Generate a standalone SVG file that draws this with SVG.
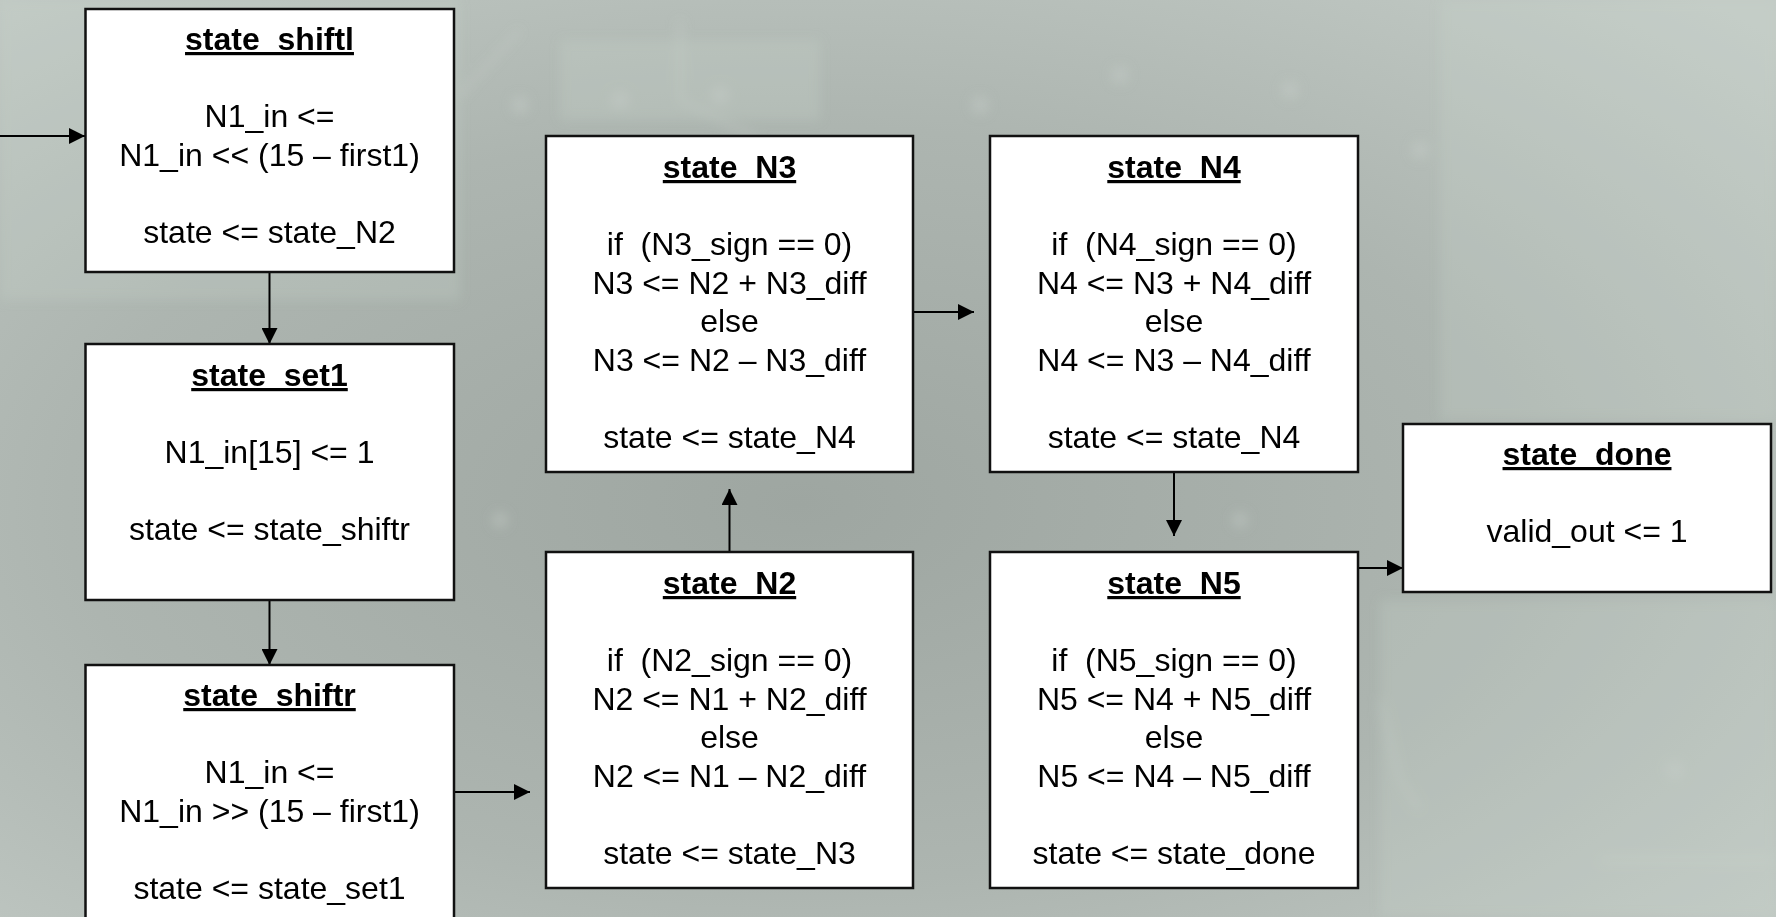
<svg xmlns="http://www.w3.org/2000/svg" width="1776" height="917" viewBox="0 0 1776 917">
  <defs>
    <radialGradient id="bg" cx="0.45" cy="0.55" r="0.75">
      <stop offset="0" stop-color="#9ea6a1"/>
      <stop offset="0.55" stop-color="#adb5b0"/>
      <stop offset="1" stop-color="#c3cbc6"/>
    </radialGradient>
    <filter id="soft" x="-10%" y="-10%" width="120%" height="120%">
      <feGaussianBlur stdDeviation="6"/>
    </filter>
    <marker id="arr" markerUnits="userSpaceOnUse" markerWidth="18" markerHeight="16" refX="16" refY="8" orient="auto">
      <path d="M0,0 L16,8 L0,16 Z" fill="#000"/>
    </marker>
    <style>
      .box { fill: #ffffff; stroke: #111111; stroke-width: 2.5; }
      .t { font-family: "Liberation Sans", Arial, sans-serif; font-size: 32px; fill: #000; text-anchor: middle; white-space: pre; }
      .h { font-weight: bold; text-decoration: underline; }
      .c { stroke: #000; stroke-width: 2; fill: none; marker-end: url(#arr); }
      .pcb { fill: none; stroke: #d3d9d5; stroke-width: 4; opacity: 0.3; }
      .via { fill: #c9cfcb; opacity: 0.4; }
      .patch { fill: #c6d2ca; opacity: 0.25; }
    </style>
  </defs>

  <g id="background">
    <rect x="0" y="0" width="1776" height="917" fill="url(#bg)"/>
    <g filter="url(#soft)">
      <rect class="patch" x="0" y="0" width="460" height="300"/>
      <rect class="patch" x="1380" y="600" width="396" height="317"/>
      <rect class="patch" x="1440" y="0" width="336" height="420"/>
      <rect class="patch" x="560" y="40" width="260" height="80"/>
      <circle class="via" cx="520" cy="105" r="9"/>
      <circle class="via" cx="620" cy="100" r="9"/>
      <circle class="via" cx="720" cy="95" r="9"/>
      <circle class="via" cx="980" cy="105" r="9"/>
      <circle class="via" cx="1120" cy="75" r="9"/>
      <circle class="via" cx="1290" cy="90" r="9"/>
      <circle class="via" cx="1420" cy="150" r="9"/>
      <circle class="via" cx="1675" cy="770" r="9"/>
      <circle class="via" cx="500" cy="520" r="8"/>
      <circle class="via" cx="1240" cy="520" r="8"/>
      <path class="pcb" d="M460,95 L520,30"/>
      <path class="pcb" d="M680,20 L680,100 L760,140"/>
      <path class="pcb" d="M1380,700 L1400,780 L1420,810"/>
      <path class="pcb" d="M1600,860 L1776,860"/>
    </g>
  </g>

  <g id="connectors">
    <line class="c" x1="0" y1="136" x2="85" y2="136"/>
    <line class="c" x1="269.5" y1="273" x2="269.5" y2="344"/>
    <line class="c" x1="269.5" y1="601" x2="269.5" y2="665"/>
    <line class="c" x1="455" y1="792" x2="530" y2="792"/>
    <line class="c" x1="729.5" y1="551" x2="729.5" y2="489"/>
    <line class="c" x1="914" y1="312" x2="974" y2="312"/>
    <line class="c" x1="1174" y1="473" x2="1174" y2="536"/>
    <line class="c" x1="1359" y1="568" x2="1403" y2="568"/>
  </g>

  <g id="state_shiftl">
    <rect class="box" x="85.5" y="9" width="368.5" height="263"/>
    <text class="t h" x="269.5" y="50">state_shiftl</text>
    <text class="t" x="269.5" y="127">N1_in &lt;=</text>
    <text class="t" x="269.5" y="165.5">N1_in &lt;&lt; (15 – first1)</text>
    <text class="t" x="269.5" y="242.5">state &lt;= state_N2</text>
  </g>

  <g id="state_set1">
    <rect class="box" x="85.5" y="344" width="368.5" height="256"/>
    <text class="t h" x="269.5" y="386">state_set1</text>
    <text class="t" x="269.5" y="463">N1_in[15] &lt;= 1</text>
    <text class="t" x="269.5" y="540">state &lt;= state_shiftr</text>
  </g>

  <g id="state_shiftr">
    <rect class="box" x="85.5" y="665" width="368.5" height="290"/>
    <text class="t h" x="269.5" y="706">state_shiftr</text>
    <text class="t" x="269.5" y="783">N1_in &lt;=</text>
    <text class="t" x="269.5" y="821.5">N1_in &gt;&gt; (15 – first1)</text>
    <text class="t" x="269.5" y="898.5">state &lt;= state_set1</text>
  </g>

  <g id="state_N3">
    <rect class="box" x="546" y="136" width="367" height="336"/>
    <text class="t h" x="729.5" y="178">state_N3</text>
    <text class="t" x="729.5" y="255" xml:space="preserve">if  (N3_sign == 0)</text>
    <text class="t" x="729.5" y="293.5">N3 &lt;= N2 + N3_diff</text>
    <text class="t" x="729.5" y="332">else</text>
    <text class="t" x="729.5" y="370.5">N3 &lt;= N2 – N3_diff</text>
    <text class="t" x="729.5" y="447.5">state &lt;= state_N4</text>
  </g>

  <g id="state_N4">
    <rect class="box" x="990" y="136" width="368" height="336"/>
    <text class="t h" x="1174" y="178">state_N4</text>
    <text class="t" x="1174" y="255" xml:space="preserve">if  (N4_sign == 0)</text>
    <text class="t" x="1174" y="293.5">N4 &lt;= N3 + N4_diff</text>
    <text class="t" x="1174" y="332">else</text>
    <text class="t" x="1174" y="370.5">N4 &lt;= N3 – N4_diff</text>
    <text class="t" x="1174" y="447.5">state &lt;= state_N4</text>
  </g>

  <g id="state_N2">
    <rect class="box" x="546" y="552" width="367" height="336"/>
    <text class="t h" x="729.5" y="594">state_N2</text>
    <text class="t" x="729.5" y="671" xml:space="preserve">if  (N2_sign == 0)</text>
    <text class="t" x="729.5" y="709.5">N2 &lt;= N1 + N2_diff</text>
    <text class="t" x="729.5" y="748">else</text>
    <text class="t" x="729.5" y="786.5">N2 &lt;= N1 – N2_diff</text>
    <text class="t" x="729.5" y="863.5">state &lt;= state_N3</text>
  </g>

  <g id="state_N5">
    <rect class="box" x="990" y="552" width="368" height="336"/>
    <text class="t h" x="1174" y="594">state_N5</text>
    <text class="t" x="1174" y="671" xml:space="preserve">if  (N5_sign == 0)</text>
    <text class="t" x="1174" y="709.5">N5 &lt;= N4 + N5_diff</text>
    <text class="t" x="1174" y="748">else</text>
    <text class="t" x="1174" y="786.5">N5 &lt;= N4 – N5_diff</text>
    <text class="t" x="1174" y="863.5">state &lt;= state_done</text>
  </g>

  <g id="state_done">
    <rect class="box" x="1403" y="424" width="368" height="168"/>
    <text class="t h" x="1587" y="465">state_done</text>
    <text class="t" x="1587" y="542">valid_out &lt;= 1</text>
  </g>
</svg>
